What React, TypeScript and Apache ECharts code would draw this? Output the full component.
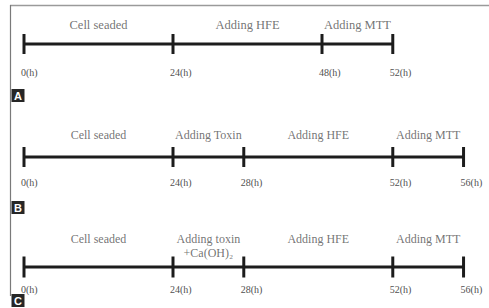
import React, { useEffect, useRef } from "react";
import * as echarts from "echarts";

// Panel A
const panelATimes = [0, 24, 48, 52];
const panelAPhases = ["Cell seaded", "Adding HFE", "Adding MTT"];
// Panel B
const panelBTimes = [0, 24, 28, 52, 56];
const panelBPhases = ["Cell seaded", "Adding Toxin", "Adding HFE", "Adding MTT"];
// Panel C
const panelCTimes = [0, 24, 28, 52, 56];
const panelCPhases = ["Cell seaded", "Adding toxin\n+Ca(OH)₂", "Adding HFE", "Adding MTT"];

const panelLetters = ["A", "B", "C"];

// schematic (not proportional) timeline: long phases drawn twice as long as short ones
function schematic(times: number[]): number[] {
  const out = [0];
  for (let i = 1; i < times.length; i++) {
    const dur = times[i] - times[i - 1];
    out.push(out[i - 1] + (dur >= 24 ? 2 : 0.95));
  }
  return out;
}

const LINE = "#1c1c1c";
const TEXT = "#505050";
const FONT = "'Liberation Serif', 'Times New Roman', serif";

const layout = [
  { top: 24, tickLabelDy: 33, phaseDy: -26.5, phaseSize: 12.5, tickH: 20 },
  { top: 137, tickLabelDy: 30.5, phaseDy: -29, phaseSize: 12, tickH: 20 },
  { top: 247, tickLabelDy: 28, phaseDy: -35.5, phaseSize: 12, tickH: 21 },
];

export default function App() {
  const ref = useRef<HTMLDivElement>(null);
  useEffect(() => {
    if (!ref.current) return;
    const chart = echarts.init(ref.current, null, { renderer: "svg" });
    const panels = [
      { times: panelATimes, phases: panelAPhases },
      { times: panelBTimes, phases: panelBPhases },
      { times: panelCTimes, phases: panelCPhases },
    ];
    const grid: any[] = [];
    const xAxis: any[] = [];
    const yAxis: any[] = [];
    const series: any[] = [];
    panels.forEach((p, k) => {
      const L = layout[k];
      grid.push({ left: 24, width: 447, top: L.top, height: 40 });
      xAxis.push({ type: "value", gridIndex: k, min: 0, max: 6, show: false });
      yAxis.push({ type: "value", gridIndex: k, min: -1, max: 1, show: false });
      const pos = schematic(p.times);
      series.push({
        type: "line",
        xAxisIndex: k,
        yAxisIndex: k,
        data: p.times.map((t, i) => ({ value: [pos[i], 0], name: `${t}(h)` })),
        lineStyle: { color: LINE, width: 3 },
        symbol: "rect",
        symbolSize: [3, L.tickH],
        showSymbol: true,
        itemStyle: { color: LINE },
        label: {
          show: true,
          position: [-1.5, L.tickLabelDy],
          align: "left",
          verticalAlign: "top",
          formatter: (d: any) => d.name,
          fontFamily: FONT,
          fontSize: 10,
          color: TEXT,
        },
        z: 3,
      });
      series.push({
        type: "scatter",
        xAxisIndex: k,
        yAxisIndex: k,
        symbolSize: 1,
        itemStyle: { color: "rgba(0,0,0,0)" },
        data: p.phases.map((name, i) => ({ value: [(pos[i] + pos[i + 1]) / 2, 0], name })),
        label: {
          show: true,
          position: "inside",
          offset: [0, L.phaseDy],
          align: "center",
          verticalAlign: "top",
          lineHeight: 14,
          formatter: (d: any) => d.name,
          fontFamily: FONT,
          fontSize: L.phaseSize,
          color: TEXT,
        },
        z: 4,
      });
    });

    const letterY = [89, 201, 294];
    const graphic: any[] = [
      {
        type: "line",
        shape: { x1: 10, y1: 5.5, x2: 489, y2: 5.5 },
        style: { stroke: "#9a9a9a", lineWidth: 1.5 },
      },
      {
        type: "line",
        shape: { x1: 10.5, y1: 5, x2: 10.5, y2: 296 },
        style: { stroke: "#7a7a7a", lineWidth: 1.2 },
      },
    ];
    panelLetters.forEach((ch, k) => {
      graphic.push({
        type: "group",
        x: 11.5,
        y: letterY[k],
        children: [
          { type: "rect", shape: { x: 0, y: 0, width: 13, height: 13 }, style: { fill: "#262626" } },
          {
            type: "text",
            x: 6.5,
            y: 7,
            style: {
              text: ch,
              fill: "#ffffff",
              font: "bold 11px 'Liberation Sans', Arial, sans-serif",
              textAlign: "center",
              textVerticalAlign: "middle",
            },
          },
        ],
      });
    });

    chart.setOption({
      animation: false,
      backgroundColor: "#ffffff",
      grid,
      xAxis,
      yAxis,
      series,
      graphic,
    });
    return () => chart.dispose();
  }, []);
  return (
    <div
      ref={ref}
      style={{ position: "fixed", left: 0, top: 0, width: 489, height: 308, background: "#fff" }}
    />
  );
}
